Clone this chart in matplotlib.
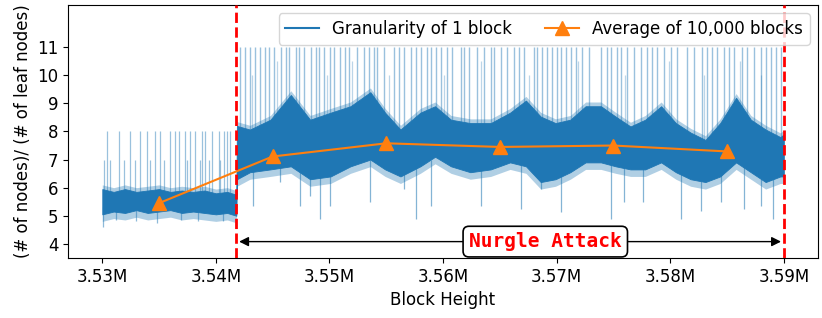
import numpy as np
import matplotlib
matplotlib.use("Agg")
from matplotlib import pyplot as plt
from matplotlib.lines import Line2D
from matplotlib.ticker import FuncFormatter

# block heights in thousands
band_k = [3530.0, 3531.0, 3532.0, 3533.0, 3534.0, 3535.0, 3536.0, 3537.0,
          3538.0, 3539.0, 3540.0, 3541.0, 3541.8,
          3541.85, 3543.0, 3544.8, 3546.6, 3548.3, 3550.1, 3551.85, 3553.6,
          3554.9, 3556.25, 3558.0, 3559.3, 3560.7, 3562.4, 3564.2, 3565.9,
          3567.3, 3568.6, 3569.9, 3571.2, 3572.55, 3573.9, 3575.2, 3576.5,
          3577.8, 3579.2, 3580.5, 3581.8, 3583.1, 3584.4, 3585.8, 3587.1,
          3588.4, 3589.7, 3590.0]
band_low = [5.05, 5.15, 5.1, 5.2, 5.1, 5.15, 5.2, 5.1,
            5.15, 5.1, 5.05, 5.1, 5.0,
            6.3, 6.55, 6.65, 6.76, 6.3, 6.4, 6.76, 7.0,
            6.65, 6.4, 6.76, 7.1, 6.76, 6.55, 6.65, 6.9,
            6.76, 6.2, 6.3, 6.55, 6.9, 6.9, 6.76, 6.65,
            6.65, 6.9, 6.55, 6.3, 6.2, 6.4, 6.9, 6.55,
            6.2, 6.4, 6.4]
band_high = [5.95, 5.85, 5.95, 5.85, 5.9, 5.95, 5.85, 5.9,
             5.85, 5.9, 5.8, 5.85, 5.75,
             8.2, 8.07, 8.42, 9.3, 8.42, 8.67, 8.9, 9.4,
             8.67, 8.07, 8.67, 8.9, 8.42, 8.3, 8.3, 8.67,
             9.1, 8.53, 8.3, 8.42, 8.9, 8.9, 8.53, 8.18,
             8.42, 8.9, 8.3, 7.96, 7.7, 8.3, 9.2, 8.42,
             8.07, 7.8, 7.9]

# single-block spikes before the attack
pre_spike_k = [3530.41, 3531.44, 3532.47, 3533.35, 3533.94, 3534.67, 3535.11,
               3535.99, 3536.43, 3536.72, 3537.31, 3537.75, 3538.19, 3538.78,
               3539.07, 3539.66, 3540.25, 3540.69, 3540.99, 3541.28,
               3530.12, 3530.70, 3531.88, 3532.91, 3534.23, 3535.40,
               3537.46, 3538.63, 3539.37, 3540.40]
pre_spike_val = [8] * 20 + [7] * 10
pre_dip_k = [3530.1, 3531.2, 3533.0, 3534.8, 3536.9, 3538.4, 3540.6]
pre_dip_val = [4.6, 4.85, 4.8, 4.75, 4.85, 4.8, 4.8]

# single-block spikes during the attack
up_spike_k = [3542.16, 3542.60, 3543.04, 3543.48, 3543.92, 3544.36, 3544.66,
              3545.10, 3545.69, 3546.13, 3546.42, 3547.01, 3547.30, 3547.74,
              3548.33, 3548.77, 3549.06, 3549.50, 3550.09, 3550.38, 3550.97,
              3551.41, 3551.71, 3552.44, 3553.03, 3553.47, 3553.91, 3554.20,
              3554.79, 3555.67, 3556.11, 3556.55, 3557.14, 3557.58, 3558.02,
              3558.61, 3558.90, 3559.34, 3559.78, 3560.37, 3560.81, 3561.55,
              3561.84, 3562.28, 3563.01, 3563.60, 3564.19, 3564.48, 3565.07,
              3565.66, 3566.24, 3566.68, 3567.12, 3568.00, 3568.30, 3568.74,
              3569.18, 3569.62, 3570.06, 3570.35, 3570.80, 3571.24, 3571.68,
              3572.26, 3572.85, 3573.88, 3574.47, 3574.76, 3575.35, 3575.64,
              3576.23, 3576.82, 3577.40, 3577.99, 3578.43, 3578.87, 3579.46,
              3580.05, 3580.63, 3581.51, 3582.10, 3582.84, 3583.28, 3583.72,
              3584.16, 3584.75, 3585.19, 3585.63, 3586.36, 3586.80, 3587.39,
              3587.98, 3588.42, 3588.86, 3589.30, 3589.74]
mid_spike_k = [3543.2, 3545.4, 3549.8, 3552.0, 3555.2, 3560.1, 3563.3,
               3567.6, 3571.9, 3576.0, 3579.9, 3583.0, 3586.1, 3588.0]
mid_spike_val = [10.0, 10.5, 10.0, 10.5, 10.0, 10.0, 10.5,
                 10.0, 10.5, 10.0, 10.5, 10.0, 10.5, 10.0]
dip_k = [3543.30, 3545.68, 3547.44, 3548.32, 3549.21, 3550.09, 3553.61,
         3556.52, 3557.58, 3558.90, 3563.30, 3566.83, 3568.59, 3570.35,
         3574.75, 3575.90, 3577.57, 3580.92, 3582.68, 3584.45, 3586.47,
         3587.97, 3589.03]
dip_val = [5.35, 6.2, 5.35, 5.7, 4.9, 5.35, 5.5,
           5.95, 4.9, 5.35, 5.35, 5.24, 5.95, 5.13,
           4.9, 5.5, 5.5, 4.9, 5.17, 5.5, 5.24,
           5.35, 4.9]

# 10,000-block averages
avg_k = [3535, 3545, 3555, 3565, 3575, 3585]
avg_val = [5.45, 7.11, 7.58, 7.45, 7.5, 7.29]

attack_start = 3541800
attack_end = 3590000

blue = "#1f77b4"
orange = "#ff7f0e"

fig = plt.figure(figsize=(8.22, 3.18), dpi=100)
ax = fig.add_axes([0.083, 0.189, 0.912, 0.795])

k = 1000.0
bx = np.array(band_k) * k
lo = np.array(band_low)
hi = np.array(band_high)

ax.vlines(np.array(pre_spike_k) * k, 5.5, pre_spike_val, color=blue, lw=0.9, alpha=0.45, zorder=1)
ax.vlines(np.array(pre_dip_k) * k, pre_dip_val, 5.3, color=blue, lw=0.9, alpha=0.5, zorder=1)
ax.vlines(np.array(up_spike_k) * k, 7.2, 11, color=blue, lw=1.0, alpha=0.45, zorder=1)
ax.vlines(np.array(mid_spike_k) * k, 7.2, mid_spike_val, color=blue, lw=0.9, alpha=0.3, zorder=1)
ax.vlines(np.array(dip_k) * k, dip_val, 7.0, color=blue, lw=0.9, alpha=0.55, zorder=1)
# light fringe around the dense core
ax.fill_between(bx, lo - 0.25, hi + 0.15, color=blue, alpha=0.35, lw=0, zorder=2)
ax.fill_between(bx, lo, hi, color=blue, lw=0.6, zorder=2)

ax.plot(np.array(avg_k) * k, avg_val, color=orange, marker="^", markersize=10, lw=1.5, zorder=4)

ax.axvline(attack_start, color="red", ls="--", lw=2, zorder=5)
ax.axvline(attack_end, color="red", ls="--", lw=2, zorder=5)

ax.annotate("", xy=(attack_start, 4.08), xytext=(attack_end, 4.08),
            arrowprops=dict(arrowstyle="<|-|>", color="black", lw=1, mutation_scale=14),
            zorder=3)
ax.text(3569000, 4.08, "Nurgle Attack", color="red", fontsize=14, fontweight="bold",
        family="DejaVu Sans Mono", ha="center", va="center", zorder=6,
        bbox=dict(boxstyle="round,pad=0.3", fc="white", ec="black", lw=1.2))

handles = [Line2D([], [], color=blue, lw=1.5),
           Line2D([], [], color=orange, lw=1.5, marker="^", markersize=10)]
ax.legend(handles, ["Granularity of 1 block", "Average of 10,000 blocks"],
          loc="upper right", ncol=2, fontsize=12)

ax.set_xlim(3527000, 3593000)
ax.set_ylim(3.5, 12.5)
ax.set_yticks(range(4, 12))
ax.xaxis.set_major_formatter(FuncFormatter(lambda x, p: f"{x / 1e6:.2f}M"))
ax.tick_params(labelsize=12)
ax.set_xlabel("Block Height", fontsize=12)
ax.set_ylabel("(# of nodes)/ (# of leaf nodes)", fontsize=12)

fig.savefig("out.png", dpi=100)
